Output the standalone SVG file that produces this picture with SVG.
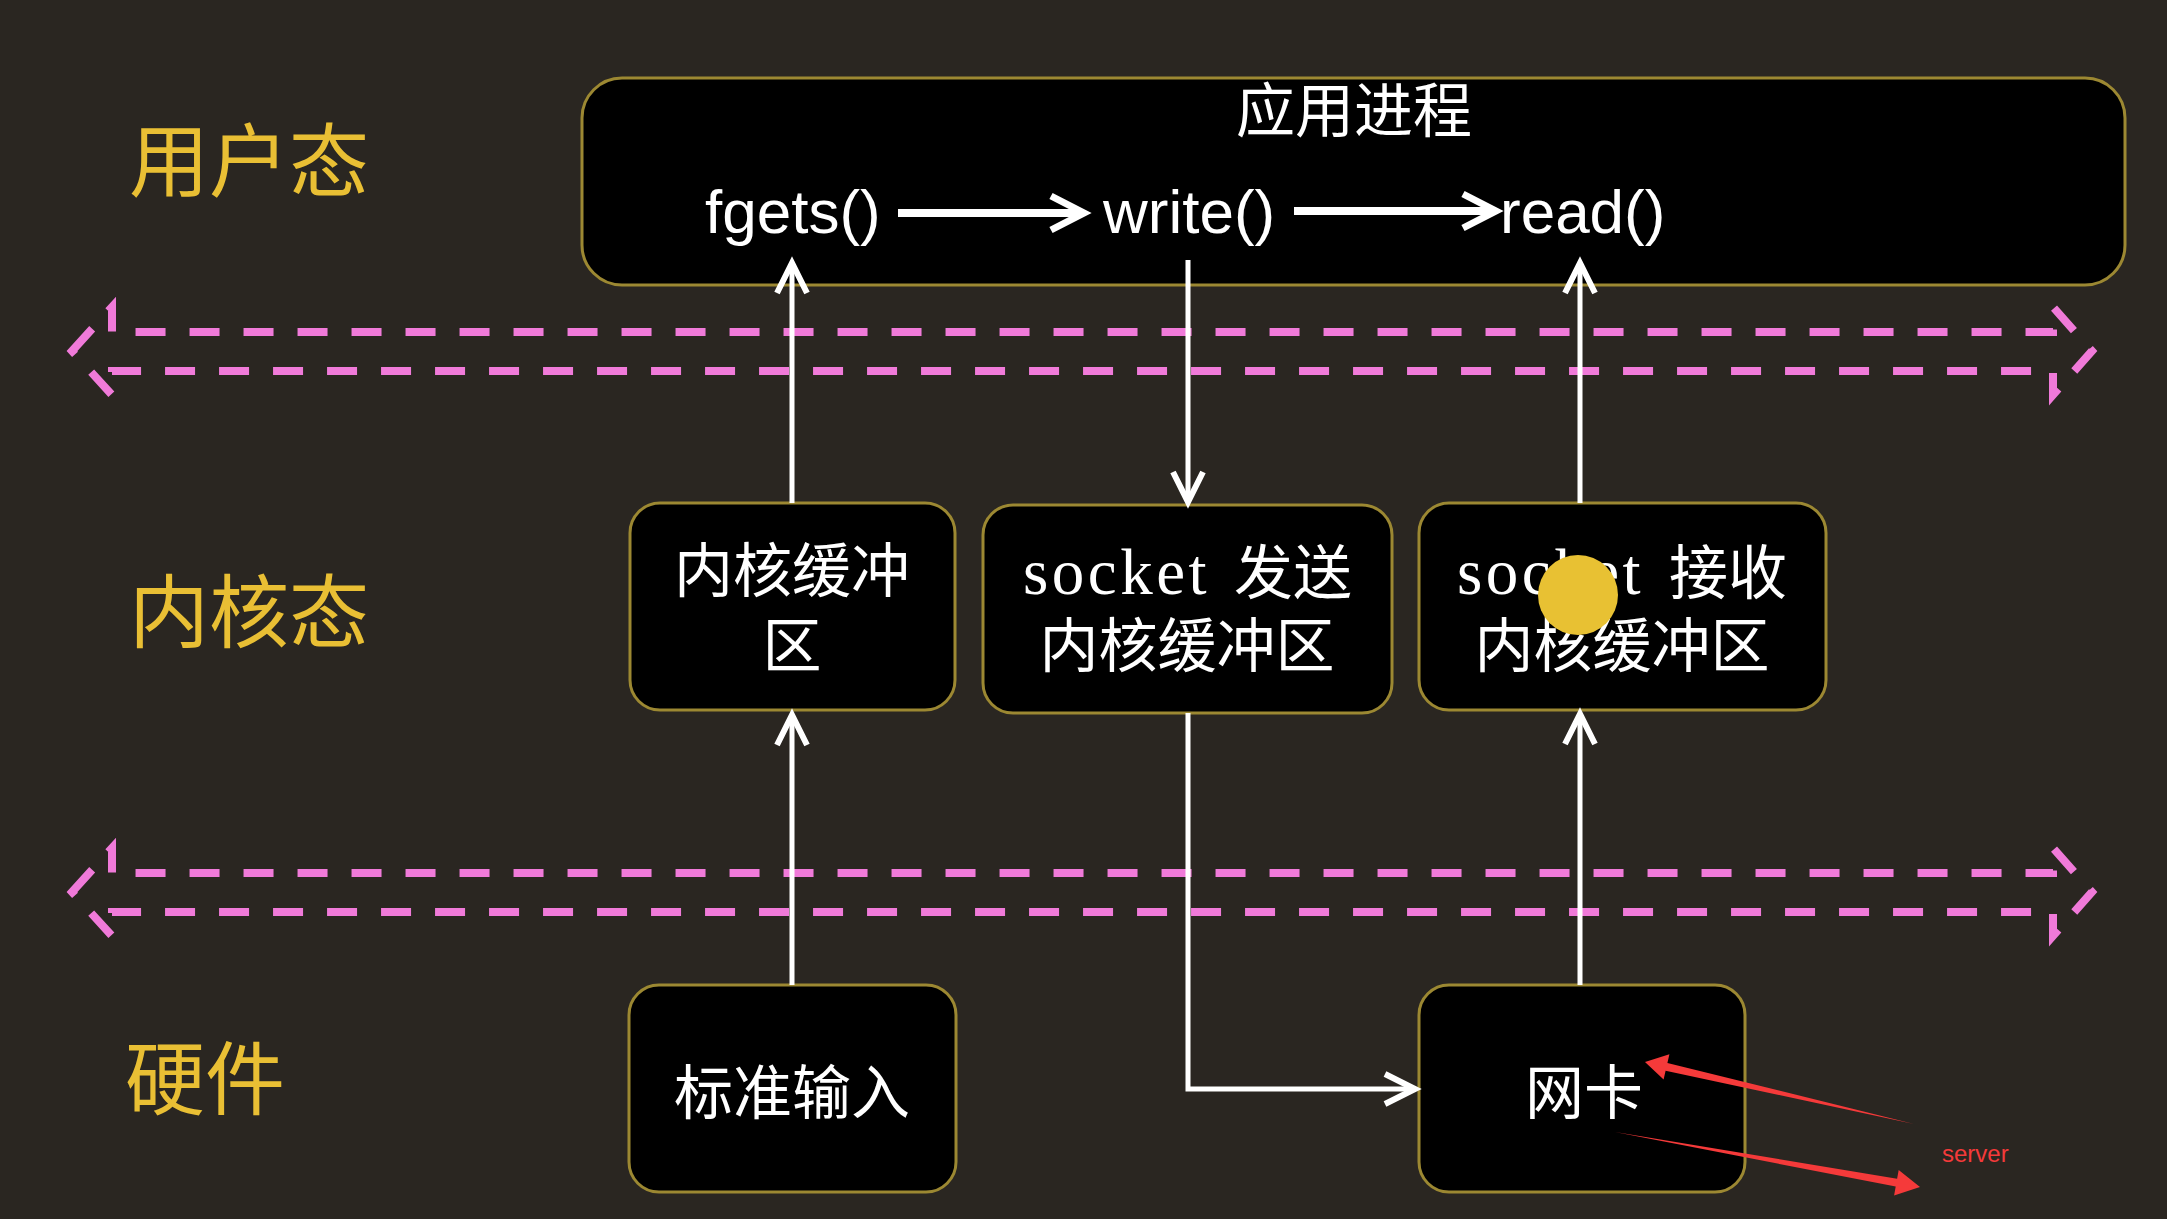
<svg xmlns="http://www.w3.org/2000/svg" width="2167" height="1219" viewBox="0 0 2167 1219">
<style>
.bg{fill:#2a2621}
.box{fill:#000;stroke:#9c8832;stroke-width:3}
.lbl{font-family:"Noto Sans CJK SC",sans-serif;font-size:80px;fill:#e9bf34}
.cj{font-family:"Liberation Serif","Noto Sans CJK SC",serif;font-size:59px;fill:#fff;text-anchor:middle}
.cs{font-family:"Liberation Serif","Noto Sans CJK SC",serif;font-size:59px;fill:#fff}
.lat{font-size:65px;letter-spacing:3.5px}
.fn{font-family:"Liberation Sans",Arial,sans-serif;font-size:62px;fill:#fff}
.band{fill:none;stroke:#f07ad9;stroke-width:8;stroke-dasharray:30 24}
.v{fill:none;stroke:#fff;stroke-width:5}
.h{fill:none;stroke:#fff;stroke-width:8}
</style>
<defs>
<marker id="av" markerUnits="userSpaceOnUse" viewBox="-40 -22 46 44" markerWidth="46" markerHeight="44" refX="0" refY="0" orient="auto" overflow="visible">
<path d="M-30,-15 L0,0 L-30,15" fill="none" stroke="#fff" stroke-width="6"/>
</marker>
<marker id="ah" markerUnits="userSpaceOnUse" viewBox="-40 -22 46 44" markerWidth="46" markerHeight="44" refX="0" refY="0" orient="auto" overflow="visible">
<path d="M-33,-17 L0,0 L-33,17" fill="none" stroke="#fff" stroke-width="7"/>
</marker>
</defs>
<rect class="bg" x="0" y="0" width="2167" height="1219"/>

<g id="layer-labels">
<text class="lbl" x="129" y="190">用户态</text>
<text class="lbl" x="129" y="641">内核态</text>
<text class="lbl" x="125" y="1108">硬件</text>
</g>

<g id="boundaries">
<path class="band" d="M72,351 L112,307 L112,332 L2053,332 L2053,307 L2092,351 L2053,395 L2053,371 L112,371 L112,395 Z"/>
<path class="band" d="M72,892 L112,848 L112,873 L2053,873 L2053,848 L2092,892 L2053,936 L2053,912 L112,912 L112,936 Z"/>
</g>

<g id="app-process">
<rect class="box" x="582" y="78" width="1543" height="207" rx="40"/>
<text class="cj" x="1354" y="132" font-size="60">应用进程</text>
<text class="fn" x="705" y="233">fgets()</text>
<text class="fn" x="1103" y="233">write()</text>
<text class="fn" x="1500" y="233">read()</text>
</g>

<g id="kernel-buffer">
<rect class="box" x="630" y="503" width="325" height="207" rx="30"/>
<text class="cj" x="792" y="592">内核缓冲</text>
<text class="cj" x="792" y="667">区</text>
</g>

<g id="socket-send">
<rect class="box" x="983" y="505" width="409" height="208" rx="30"/>
<text class="cs" x="1023" y="594"><tspan class="lat">socket</tspan><tspan dx="24">发送</tspan></text>
<text class="cj" x="1187" y="667">内核缓冲区</text>
</g>

<g id="socket-recv">
<rect class="box" x="1419" y="503" width="407" height="207" rx="30"/>
<text class="cs" x="1457" y="594"><tspan class="lat">socket</tspan><tspan dx="25">接收</tspan></text>
<text class="cj" x="1622" y="667">内核缓冲区</text>
</g>

<g id="stdin">
<rect class="box" x="629" y="985" width="327" height="207" rx="30"/>
<text class="cj" x="792" y="1114" font-size="60">标准输入</text>
</g>

<g id="nic">
<rect class="box" x="1419" y="985" width="326" height="207" rx="30"/>
<text class="cj" x="1584" y="1114" font-size="60">网卡</text>
</g>

<g id="connectors">
<line class="h" x1="898" y1="213" x2="1084" y2="213" marker-end="url(#ah)"/>
<line class="h" x1="1294" y1="211" x2="1496" y2="211" marker-end="url(#ah)"/>
<line class="v" x1="792" y1="985" x2="792" y2="715" marker-end="url(#av)"/>
<line class="v" x1="792" y1="503" x2="792" y2="263" marker-end="url(#av)"/>
<line class="v" x1="1188" y1="260" x2="1188" y2="502" marker-end="url(#av)"/>
<polyline class="v" points="1188,713 1188,1089 1415,1089" marker-end="url(#av)"/>
<line class="v" x1="1580" y1="985" x2="1580" y2="714" marker-end="url(#av)"/>
<line class="v" x1="1580" y1="503" x2="1580" y2="263" marker-end="url(#av)"/>
</g>

<g id="annotation">
<polygon fill="#f53a3a" points="1914,1124 1667.4,1063 1669.4,1054.2 1645,1062 1663.6,1079.6 1665.6,1070.8"/>
<polygon fill="#f53a3a" points="1615,1132 1895.7,1186.6 1894.1,1195.5 1920,1187 1898.7,1169.9 1897.1,1178.8"/>
<text x="1942" y="1162" font-family="Liberation Sans,Arial,sans-serif" font-size="24" fill="#f53a3a">server</text>
</g>

<circle cx="1578" cy="595" r="40" fill="#e8c133"/>
</svg>
